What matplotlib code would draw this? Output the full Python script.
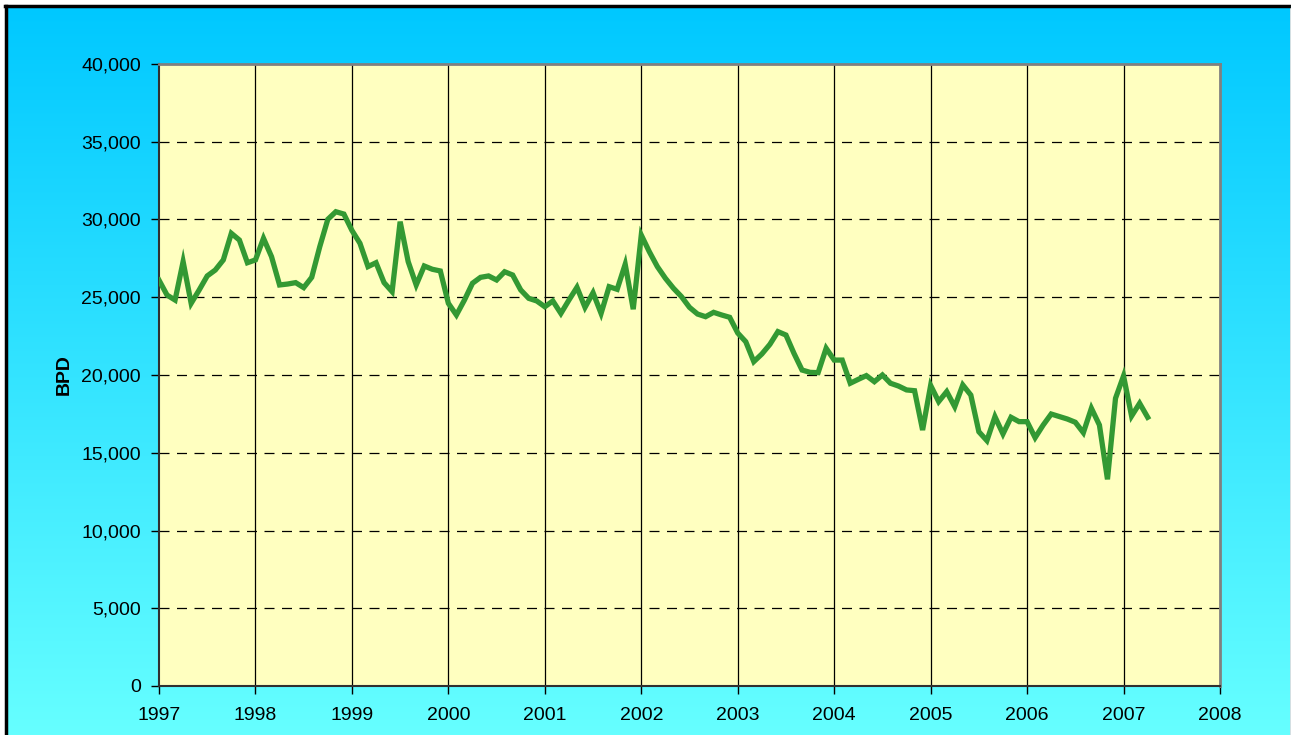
import numpy as np
import matplotlib
matplotlib.use("Agg")
import matplotlib.pyplot as plt
from matplotlib.lines import Line2D

plt.rcParams['font.family'] = ['Liberation Sans', 'DejaVu Sans']

start_year = 1997
values = [
    # 1997
    26100, 25140, 24820, 27290, 24610, 25470, 26370, 26750, 27400, 29110, 28680, 27220,
    # 1998
    27400, 28790, 27610, 25790, 25850, 25940, 25620, 26280, 28250, 30010, 30500, 30350,
    # 1999
    29300, 28470, 26970, 27220, 25940, 25360, 29860, 27290, 25790, 27010, 26800, 26690,
    # 2000
    24610, 23860, 24820, 25900, 26280, 26370, 26110, 26640, 26430, 25470, 24930, 24760,
    # 2001
    24390, 24760, 23960, 24820, 25640, 24350, 25290, 23960, 25680, 25510, 27120, 24230,
    # 2002
    29000, 27930, 26970, 26220, 25580, 25040, 24350, 23920, 23750, 24030, 23860, 23710,
    # 2003
    22700, 22140, 20860, 21350, 21970, 22790, 22570, 21390, 20320, 20170, 20150, 21720,
    # 2004
    20960, 20960, 19470, 19720, 19960, 19570, 20000, 19470, 19290, 19040, 18990, 16460,
    # 2005
    19330, 18290, 18930, 17960, 19360, 18710, 16350, 15780, 17320, 16210, 17280, 17000,
    # 2006
    17000, 15970, 16780, 17490, 17330, 17170, 16960, 16290, 17860, 16780, 13290, 18500,
    # 2007
    19940, 17360, 18180, 17280,
]
year_ticks = list(range(1997, 2009))
y_ticks = list(range(0, 40001, 5000))
y_label = "BPD"

months = np.arange(len(values))
x = start_year + months / 12.0

W, H = 1291, 735
fig = plt.figure(figsize=(W / 100, H / 100), dpi=100)
fig.patch.set_facecolor('white')

# gradient background
bg = fig.add_axes([6 / W, 0, 1 - 7 / W, 1 - 6 / H])
bg.set_axis_off()
top_c = np.array([0, 200, 255]) / 255.0
bot_c = np.array([102, 255, 255]) / 255.0
t = np.linspace(0, 1, 256)[:, None]
grad = top_c[None, :] * (1 - t) + bot_c[None, :] * t
bg.imshow(grad[:, None, :], aspect='auto', extent=[0, 1, 0, 1], interpolation='bilinear')

# border lines
fig.add_artist(Line2D([5.5 / W, 5.5 / W], [0, 1 - 5.5 / H], color='black', lw=2.5, transform=fig.transFigure))
fig.add_artist(Line2D([5 / W, 1], [1 - 6 / H, 1 - 6 / H], color='black', lw=2.5, transform=fig.transFigure))
fig.add_artist(Line2D([1 - 0.5 / W, 1 - 0.5 / W], [0, 1 - 6 / H], color='#206070', lw=1, transform=fig.transFigure))

left, right, top, bottom = 159, 1220, 64, 686
ax = fig.add_axes([left / W, 1 - bottom / H, (right - left) / W, (bottom - top) / H])
ax.set_facecolor('#FFFFC0')
ax.set_xlim(1997, 2008)
ax.set_ylim(0, 40000)
ax.set_xticks(year_ticks)
ax.set_xticklabels([str(y) for y in year_ticks])
ax.set_yticks(y_ticks)
ax.set_yticklabels([f"{v:,}" for v in y_ticks])

for yv in y_ticks[1:-1]:
    ax.axhline(yv, color='black', lw=0.9, ls=(0, (8, 6)), zorder=1)
for xv in year_ticks[1:-1]:
    ax.axvline(xv, color='black', lw=0.9, zorder=1)

ax.plot(x, values, color='#339933', lw=3.8, solid_joinstyle='miter', zorder=3)

for s in ['top', 'right']:
    ax.spines[s].set_color('#808080')
    ax.spines[s].set_linewidth(2)
for s in ['left', 'bottom']:
    ax.spines[s].set_color('#303030')
    ax.spines[s].set_linewidth(1.5)

ax.tick_params(axis='both', direction='out', length=6, width=1, colors='black', labelsize=14)
ax.tick_params(axis='y', pad=7)
ax.tick_params(axis='x', pad=9)
ax.set_ylabel(y_label, fontsize=14, fontweight='bold', labelpad=6)

fig.savefig('out.png', dpi=100)
